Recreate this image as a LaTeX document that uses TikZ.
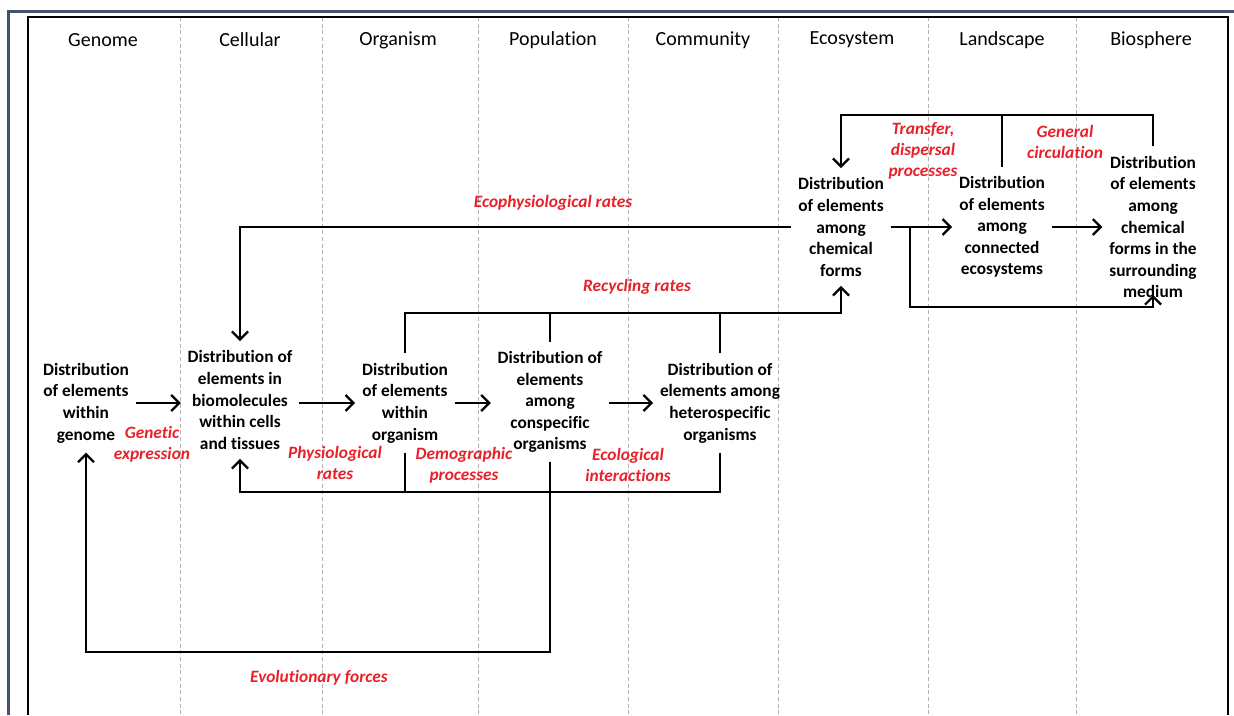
\documentclass[tikz,border=0pt]{standalone}
\usepackage{fontspec}
\setmainfont[Ligatures=NoCommon]{Carlito}
\usepackage{tikz}
\usepackage{xcolor}
\usetikzlibrary{arrows.meta}
\definecolor{slate}{HTML}{44546A}
\definecolor{procred}{HTML}{E8202A}

\begin{document}
\begin{tikzpicture}[x=0.75pt, y=-0.75pt,
    box/.style={align=center, font=\bfseries\fontsize{13}{16.2}\selectfont, inner xsep=5pt, inner ysep=7pt},
    head/.style={font=\fontsize{15}{18}\selectfont},
    proc/.style={align=center, text=procred, font=\bfseries\itshape\fontsize{13}{16}\selectfont},
    flow/.style={draw, line width=1.7pt, -{Straight Barb[length=6pt,width=12pt]}},
    link/.style={draw, line width=1.7pt},
    sep/.style={draw=black!30, line width=0.6pt, dash pattern=on 3pt off 2pt}]
    \useasboundingbox (0,0) rectangle (1234,715);
    % Columns and frame
    \foreach \x in {180,322,478,628,778,928,1076}
        \draw[sep] (\x,17) -- (\x,715);
    \draw[slate, line width=2.6pt] (1234,11.5) -- (8.5,11.5) -- (8.5,715);
    \draw[line width=1.9pt] (28,715) -- (28,17) -- (1228,17) -- (1228,715);
    % Level headers
    \node[head] (hgen) at (103,40) {Genome};
    \node[head] (hcel) at (250,40) {Cellular};
    \node[head] (horg) at (398,40) {Organism};
    \node[head] (hpop) at (553,40) {Population};
    \node[head] (hcom) at (703,40) {Community};
    \node[head] (heco) at (852,40) {Ecosystem};
    \node[head] (hlan) at (1002,40) {Landscape};
    \node[head] (hbio) at (1151,40) {Biosphere};
    % Distributions
    \node[box] (gen) at (86,403) {Distribution\\of elements\\within\\genome};
    \node[box] (cel) at (240,400) {Distribution of\\elements in\\biomolecules\\within cells\\and tissues};
    \node[box] (org) at (405,403) {Distribution\\of elements\\within\\organism};
    \node[box] (pop) at (550,402) {Distribution of\\elements\\among\\conspecific\\organisms};
    \node[box] (com) at (720,403) {Distribution of\\elements among\\heterospecific\\organisms};
    \node[box] (chem) at (841,227) {Distribution\\of elements\\among\\chemical\\forms};
    \node[box] (conn) at (1002,227) {Distribution\\of elements\\among\\connected\\ecosystems};
    \node[box] (med) at (1153,227) {Distribution\\of elements\\among\\chemical\\forms in the\\surrounding\\medium};
    % Processes
    \node[proc] (genexp) at (152,444) {Genetic\\expression};
    \node[proc] (physio) at (335,463) {Physiological\\rates};
    \node[proc] (demo) at (464,465) {Demographic\\processes};
    \node[proc] (ecoint) at (628,465) {Ecological\\interactions};
    \node[proc] (ecophys) at (553,203) {Ecophysiological rates};
    \node[proc] (recyc) at (637,287) {Recycling rates};
    \node[proc] (evol) at (319,678) {Evolutionary forces};
    \node[proc] (transf) at (923,151) {Transfer,\\dispersal\\processes};
    \node[proc] (circ) at (1065,142) {General\\circulation};
    % Forward arrows
    \draw[flow] (gen) -- (gen -| cel.west);
    \draw[flow] (cel.east |- org) -- (org);
    \draw[flow] (org) -- (org -| pop.west);
    \draw[flow] (pop.east |- com) -- (com);
    \draw[flow] (chem) -- (conn);
    \draw[flow] (conn) -- (med);
    % Feedback loops
    \draw[flow] (chem.west) -| (cel.north);
    \draw[flow] (org.north) |- (chem.south |- 0,313) -- (chem.south);
    \draw[link] (pop.north) -- (pop.north |- 0,313);
    \draw[link] (com.north) -- (com.north |- 0,313);
    \draw[flow] (com.south) -- (com.south |- 0,492) -| (cel.south);
    \draw[link] (org.south) -- (org.south |- 0,492);
    \draw[flow] (pop.south) -- (pop.south |- 0,652) -| (gen.south);
    \draw[flow] (med.north) -- (med.north |- 0,115) -| (chem.north);
    \draw[link] (conn.north) -- (conn.north |- 0,115);
    \coordinate (br) at (910,0 |- chem.east);
    \draw[flow] (br) |- (med.south |- 0,307) -- ++(0,-12);
\end{tikzpicture}
\end{document}
